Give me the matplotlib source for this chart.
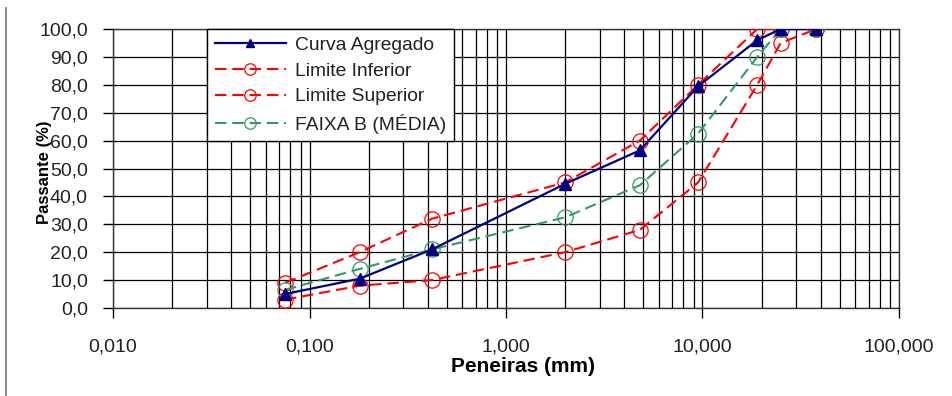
import matplotlib
matplotlib.use("Agg")
import matplotlib.pyplot as plt
from matplotlib.ticker import FixedLocator, LogLocator, NullFormatter, FuncFormatter
from matplotlib.lines import Line2D

plt.rcParams['font.family'] = ['Liberation Sans', 'DejaVu Sans']

peneiras = [0.075, 0.18, 0.42, 2.0, 4.8, 9.5, 19.0, 25.0, 38.0]
curva_agregado = [5.0, 10.5, 21.0, 44.5, 56.5, 79.5, 96.0, 100.0, 100.0]
limite_inferior = [3.0, 8.0, 10.0, 20.0, 28.0, 45.0, 80.0, 95.0, 100.0]
limite_superior = [9.0, 20.0, 32.0, 45.0, 60.0, 80.0, 100.0, 100.0, 100.0]
faixa_b_media = [6.5, 14.0, 21.0, 32.5, 44.0, 62.5, 90.0, 100.0, 100.0]

x_ticks = [0.01, 0.1, 1, 10, 100]
x_tick_labels = ["0,010", "0,100", "1,000", "10,000", "100,000"]
y_ticks = [0, 10, 20, 30, 40, 50, 60, 70, 80, 90, 100]

W, H = 953, 396
fig = plt.figure(figsize=(W / 100, H / 100), dpi=100)
ax = fig.add_axes([113 / W, 1 - 308 / H, (899 - 113) / W, (308 - 29) / H])

red = "#ff0000"
green = "#339966"
navy = "#000080"
dash = (5.5, 2.8)

l_inf, = ax.plot(peneiras, limite_inferior, color=red, lw=1.5, dashes=dash,
                 marker='o', ms=11, mfc='none', mec=red, mew=0.9, zorder=3,
                 label="Limite Inferior")
l_sup, = ax.plot(peneiras, limite_superior, color=red, lw=1.5, dashes=dash,
                 marker='o', ms=11, mfc='none', mec=red, mew=0.9, zorder=3,
                 label="Limite Superior")
l_fx, = ax.plot(peneiras, faixa_b_media, color=green, lw=1.5, dashes=dash,
                marker='o', ms=11, mfc='none', mec=green, mew=0.9, zorder=4,
                label="FAIXA B (MÉDIA)")
l_cur, = ax.plot(peneiras, curva_agregado, color=navy, lw=1.6,
                 marker='^', ms=8.5, mfc=navy, mec=navy, zorder=5,
                 label="Curva Agregado")

ax.set_xscale('log')
ax.set_xlim(0.01, 100)
ax.set_ylim(0, 100)

ax.xaxis.set_major_locator(FixedLocator(x_ticks))
ax.set_xticklabels(x_tick_labels)
ax.xaxis.set_minor_locator(LogLocator(base=10, subs=range(2, 10), numticks=20))
ax.xaxis.set_minor_formatter(NullFormatter())
ax.set_yticks(y_ticks)
ax.yaxis.set_major_formatter(FuncFormatter(lambda v, p: f"{v:.1f}".replace('.', ',')))

ax.grid(True, which='major', axis='both', color='black', lw=0.9)
ax.grid(True, which='minor', axis='x', color='black', lw=0.9)
ax.set_axisbelow(True)

ax.tick_params(axis='x', which='major', direction='out', length=7, width=1,
               pad=15, labelsize=14, colors='black', labelcolor='#222222')
ax.tick_params(axis='x', which='minor', length=0)
ax.tick_params(axis='y', which='major', direction='out', length=7, width=1,
               pad=11, labelsize=14, labelcolor='#222222')
for s in ax.spines.values():
    s.set_color('#333333')
    s.set_linewidth(1)

fig.text(523 / W, 1 - 366 / H, "Peneiras (mm)", fontsize=15, fontweight='bold',
         ha='center', va='center')
fig.text(45 / W, 1 - 172 / H, "Passante (%)", rotation=90, fontsize=12,
         fontweight='bold', ha='center', va='center')

leg = ax.legend(handles=[l_cur, l_inf, l_sup, l_fx], loc='upper left',
                bbox_to_anchor=((207 - 113) / 786, 1.0), borderaxespad=0,
                fontsize=13.9, handlelength=3.7, labelspacing=0.42,
                handletextpad=0.45, borderpad=0.4, fancybox=False,
                framealpha=1, edgecolor='black', markerscale=0.75)
leg.get_frame().set_linewidth(1)
leg.set_zorder(10)
for t in leg.get_texts():
    t.set_color('#222222')

fig.add_artist(Line2D([6 / W, 6 / W], [0, 1 - 8 / H], color='#777777', lw=1.2))

fig.savefig("out.png", dpi=100)
